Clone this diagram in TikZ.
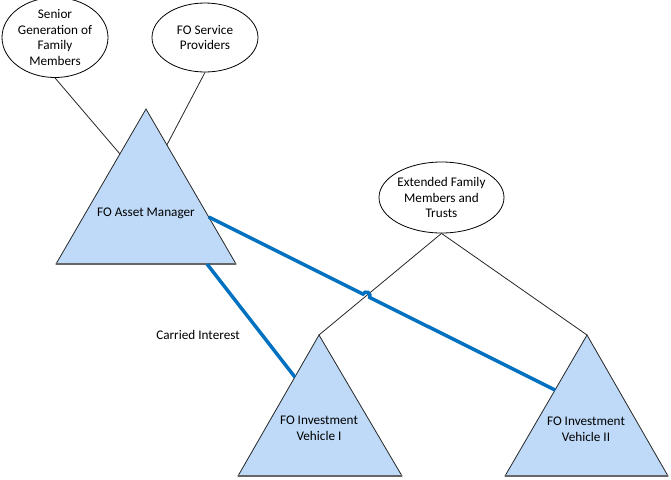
\documentclass[tikz,border=0pt]{standalone}
\usepackage{fontspec}
\setmainfont{Carlito}
\usetikzlibrary{shapes.geometric,calc}
\definecolor{trifill}{RGB}{190,218,248}
\definecolor{linkblue}{RGB}{0,112,192}
\begin{document}
\begin{tikzpicture}[x=0.75pt,y=-0.75pt,
  every node/.style={font=\fontsize{9.9}{11.85}\selectfont, align=center, inner sep=0pt},
  oval/.style={ellipse, draw=black, line width=0.6pt, fill=white},
  tri/.style={draw=black!85, line width=0.6pt, fill=trifill, line join=miter},
  tribase/.style={draw=black!60, line width=1.1pt},
  tie/.style={draw=black!85, line width=0.6pt},
  link/.style={draw=linkblue, line width=2.6pt}]
\useasboundingbox (0,0) rectangle (671,479);

% triangles
\coordinate (amT) at (146,109); \coordinate (amL) at (56,264); \coordinate (amR) at (236,264);
\coordinate (v1T) at (319,335); \coordinate (v1L) at (238,476); \coordinate (v1R) at (402,476);
\coordinate (v2T) at (587,335); \coordinate (v2L) at (505,476); \coordinate (v2R) at (668,476);
\path[tri] (amT) -- (amL) -- (amR) -- cycle;
\path[tri] (v1T) -- (v1L) -- (v1R) -- cycle;
\path[tri] (v2T) -- (v2L) -- (v2R) -- cycle;
\path[tribase] (amL) -- (amR);
\path[tribase] (v1L) -- (v1R);
\path[tribase] (v2L) -- (v2R);

\node (am) at (146,213) {FO Asset Manager};
\node (v1) at (319,428) {FO Investment\\Vehicle I};
\node (v2) at (586,429) {FO Investment\\Vehicle II};

% ellipses
\node[oval, minimum width=79.5pt, minimum height=51.75pt] (sen) at (55,37.5) {Senior\\Generation of\\Family\\Members};
\node[oval, minimum width=79.5pt, minimum height=51.75pt] (fos) at (205,37.5) {FO Service\\Providers};
\node[oval, minimum width=93.75pt, minimum height=53.25pt] (ext) at (441.5,197.5) {Extended Family\\Members and\\Trusts};

% connector end points on triangle edges
\coordinate (senEnd) at ($(amT)!0.29!(amL)$);
\coordinate (fosEnd) at ($(amT)!0.232!(amR)$);
\coordinate (b1s) at ($(amL)!0.839!(amR)$);
\coordinate (b1e) at ($(v1T)!0.298!(v1L)$);
\coordinate (b2s) at ($(amT)!0.697!(amR)$);
\coordinate (b2e) at ($(v2T)!0.39!(v2L)$);

% black ties
\draw[tie] (sen.south) -- (senEnd);
\draw[tie] (fos.south) -- (fosEnd);
\draw[tie] (ext.south) -- (v1T);
\draw[tie] (ext.south) -- (v2T);

% blue links
\coordinate (hop) at (intersection of b2s--b2e and ext.south--v1T);
\draw[link] (b1s) -- (b1e);
\draw[link] (b2s) -- ($(hop)!2.8pt!(b2s)$) arc[start angle=153.4, end angle=-26.6, radius=2.8pt] -- (b2e);

\node (ci) at (198,335) {Carried Interest};
\end{tikzpicture}
\end{document}
